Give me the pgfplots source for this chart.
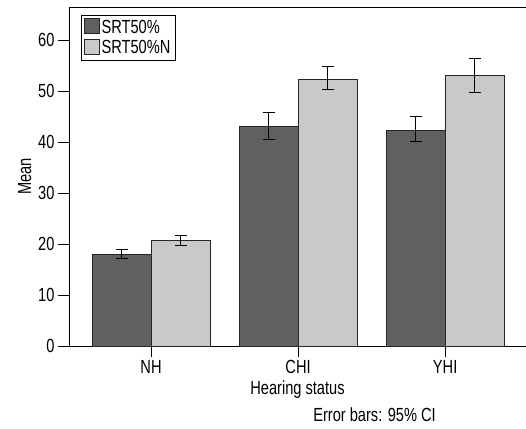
\documentclass[border=0pt]{standalone}
\usepackage{pgfplots}
\pgfplotsset{compat=1.18}
\usepackage{pgfplotstable}
\usepackage{fontspec}
\setmainfont{Liberation Sans}[FakeStretch=0.77]

\definecolor{darkbar}{RGB}{96,96,98}
\definecolor{lightbar}{RGB}{200,201,203}

% mean, upper and lower CI distance
\pgfplotstableread{
x y ep em
0 18.0 1.0 0.8
1 43.0 2.9 2.4
2 42.3 2.7 2.1
}\srt
\pgfplotstableread{
x y ep em
0 20.7 0.9 0.9
1 52.3 2.5 2.0
2 53.0 3.4 3.3
}\srtn

\begin{document}
\begin{tikzpicture}
\begin{axis}[
    scale only axis,
    width=457pt, height=339pt,
    xmin=-0.558, xmax=2.55,
    ymin=0, ymax=66.5,
    ybar=0pt, bar width=59pt,
    xtick={0,1,2}, xticklabels={NH,CHI,YHI},
    ytick={0,10,...,60},
    axis x line*=bottom, axis y line*=left,
    axis line style={-, black, line width=0.8pt},
    tick align=outside, major tick length=11pt,
    tick style={black, line width=0.8pt},
    xlabel={Hearing status}, ylabel={Mean},
    font=\fontsize{19}{22}\selectfont,
    /pgf/number format/assume math mode=true,
    legend style={at={(0,1)}, anchor=north west, xshift=12pt, yshift=-8pt,
        draw=black, line width=0.8pt, inner sep=2.5pt, row sep=2pt,
        font=\fontsize{19}{20}\selectfont},
    legend cell align=left,
    legend image code/.code={\draw[#1, line width=0.7pt] (0pt,-6pt) rectangle (15pt,9pt);},
    error bars/error bar style={black, line width=0.8pt},
    error bars/error mark options={rotate=90, mark size=6pt, line width=0.8pt, black},
]
\addplot[fill=darkbar, draw=black!85, line width=0.7pt,
    error bars/.cd, y dir=both, y explicit]
    table[x=x, y=y, y error plus=ep, y error minus=em] {\srt};
\addplot[fill=lightbar, draw=black!85, line width=0.7pt,
    error bars/.cd, y dir=both, y explicit]
    table[x=x, y=y, y error plus=ep, y error minus=em] {\srtn};
\legend{SRT50\%, SRT50\%N}
\draw[line width=0.8pt] (rel axis cs:0,1) -- (rel axis cs:1,1);
\end{axis}
\node at ([xshift=305.5pt,yshift=-69pt]current axis.south west) {\fontsize{19}{22}\selectfont Error bars: 95\% CI};
\pgfresetboundingbox
\path ([xshift=-69pt,yshift=-82pt]current axis.south west) rectangle ([yshift=7pt]current axis.north east);
\end{tikzpicture}
\end{document}
